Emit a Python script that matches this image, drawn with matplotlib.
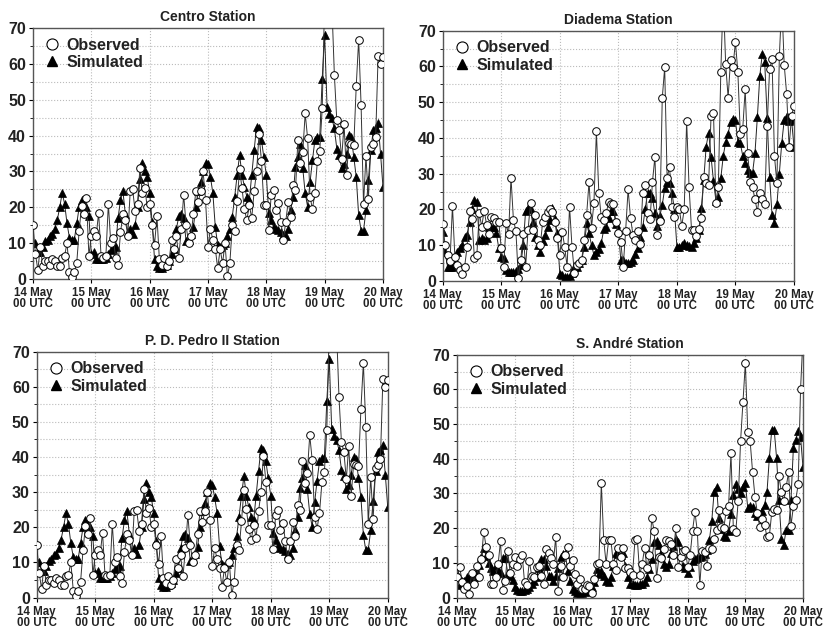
import numpy as np
import matplotlib
matplotlib.use("Agg")
import matplotlib.pyplot as plt
from matplotlib.lines import Line2D
from matplotlib.ticker import MultipleLocator

# hourly values, 14 May 00 UTC .. 20 May 00 UTC (145 points)
centro_obs = [15, 7, 2.5, 9, 3.5, 5, 5, 4, 5.5, 5, 3.5, 3.5, 6, 6.5, 10, 2, 0.5, 2, 4.5, 13.5,
              20.5, 18, 22.5, 6.5, 12, 13.5, 12, 18.5, 6.5, 6, 6.5, 21, 10, 11.5, 6, 4, 13, 18, 16.5, 12,
              24.5, 25, 19, 21, 31, 24, 25.5, 20, 21, 15, 9.5, 17.5, 5.5, 4, 6, 3.5, 5, 11, 8.5, 12,
              6, 14, 23.5, 15, 10, 12, 18, 24.5, 21.5, 24.5, 30, 22, 9, 14, 11, 8.5, 3, 8.3, 4.4, 10,
              0.8, 4.4, 15, 13.4, 21.7, 30.6, 25.3, 19.4, 16.4, 20.6, 17, 24.5, 30, 40.4, 33, 20.6, 20.6, 13.7, 23.4, 24.8,
              19.2, 21.3, 16, 10.9, 16, 21.6, 17.4, 26.2, 24.8, 38.8, 32.5, 35.5, 46.2, 39.2, 22.8, 19.6, 24, 32.8, 35.8, 47.6,
              78, 92, 88, 76, 57, 44.3, 41.5, 33.6, 43.2, 29, 38, 37.6, 37.3, 53.8, 66.8, 48.5, 20.9, 34.3, 22.3, 36.9,
              37.7, 39.5, 62.2, 59.9, 62]
centro_sim = [10, 10, 7.5, 7.5, 9, 10.5, 11, 12, 12.5, 14, 16.5, 20, 24, 21, 15.5, 11.5, 11, 11, 15.5, 20,
              22, 21, 20, 17.5, 7, 7.5, 5.5, 5.5, 5.5, 5.5, 6, 7, 8, 8.5, 9, 17, 22, 24.5, 18, 13,
              14, 12.5, 15, 20, 28, 32.5, 30, 28.5, 24, 16, 5.5, 3.5, 3, 3, 3.5, 4, 5, 7, 8.5, 14,
              17.5, 18, 17, 10.5, 11, 12.5, 14.5, 20, 24.5, 27, 30, 32.5, 32, 28.5, 24, 14.6, 9.5, 9, 9.5, 10,
              12, 14, 17.4, 23, 29, 34.6, 29, 25.7, 23, 22, 29, 36, 42.5, 42, 38.8, 34, 29, 18.3, 16.4, 14.6,
              14, 13.7, 13.2, 12.3, 12, 14, 19.2, 23, 31.3, 34, 37.8, 30.9, 23.9, 20.2, 27.1, 33.2, 38.8, 39.7, 39.7, 55.9,
              68, 48, 46, 44.8, 42, 36.4, 34.6, 30.9, 32, 35, 40.1, 39.5, 34, 28.5, 17.8, 13.5, 13.5, 19.2, 27.6, 36,
              41.5, 42, 43.4, 35, 25.7]

diadema_obs = [16, 10, 7.3, 5.5, 21, 6.6, 4.5, 3, 2, 4, 9.6, 19.6, 17.3, 6.3, 7.3, 19, 15.2, 19.7, 15.7, 13,
               18, 17.5, 16.6, 16.5, 9.1, 4, 16.1, 13, 28.9, 17, 14.1, 0.9, 6, 13, 4, 14.3, 21.9, 14.3, 18.5, 11.5,
               10, 16.6, 18, 19.4, 20, 19.4, 16.6, 11.9, 7.3, 13.8, 9.6, 4, 20.8, 9.6, 2.1, 4.5, 5, 6, 11.5, 18.5,
               27.8, 14.9, 21.9, 41.8, 24.7, 17.8, 17, 18.9, 22, 21.4, 21.5, 16.6, 13.5, 11, 4, 14.1, 25.6, 17.7, 12.8, 11.5,
               14.1, 10.3, 24.7, 26.7, 18.9, 17.2, 27.8, 34.8, 12.8, 16.8, 51.1, 59.7, 28.7, 32, 20.8, 18, 20.6, 20, 15.4, 20,
               44.8, 26.2, 14.3, 14.3, 12.6, 14.4, 17.5, 29.2, 27.5, 26.8, 46.1, 47.1, 21.9, 26.4, 58.3, 80, 60.6, 51.3, 61.8, 59.9,
               66.9, 58.3, 41.2, 42.6, 53.6, 35.9, 27.7, 26.4, 22.8, 19.4, 24.5, 23, 21.5, 43.2, 59.2, 62, 34.9, 27.3, 62.8, 78,
               60.4, 52.3, 37.5, 46.2, 49]
diadema_sim = [13.8, 8, 4, 4, 4, 6, 8, 9.1, 10, 12.4, 12.9, 16.6, 20, 22.6, 22, 11.5, 11.9, 11.5, 12, 15.2,
               15.2, 15, 13.3, 9.1, 6.8, 6.3, 3, 2.6, 2.6, 2.6, 2.8, 3.3, 4.5, 10, 19.7, 20.3, 20, 16.6, 12.4, 10,
               8.2, 11.3, 12.9, 15, 17, 20.3, 17.2, 13.3, 2, 1.7, 1.2, 1.2, 1.5, 2.1, 4, 3.8, 5, 5.9, 9.4, 16.1,
               13.3, 10, 7.3, 8.2, 9, 10.5, 14.4, 15, 17.5, 19.7, 19.7, 16, 14.3, 5.9, 5.9, 4.9, 5, 5.4, 5.9, 7.5,
               9.1, 12.4, 15, 20, 24.7, 24.7, 23.1, 18.9, 15.4, 18.2, 21.2, 25.9, 27.8, 27.3, 24.5, 20, 9.6, 9.6, 10, 10.5,
               10, 9.8, 9.6, 10.5, 12, 14.3, 20.3, 28.2, 37.6, 41.5, 34.8, 28, 22.5, 23.6, 28.7, 34.9, 38.9, 41.2, 44.5, 45.4,
               45, 38.9, 38.5, 35, 33.1, 31, 30.3, 30.1, 35.7, 45.9, 57.4, 63.5, 61.3, 45.6, 29, 18.5, 16.3, 21.4, 29.9, 38.7,
               45, 46.1, 44.8, 45, 37.6]

# P. D. Pedro II panel shows the same series as Centro
pedro_obs = centro_obs
pedro_sim = centro_sim

andre_obs = [6, 8.8, 4.5, 2.6, 3.3, 0.9, 7.2, 4, 9.1, 6, 11, 19, 14.7, 12.2, 4, 4, 6, 9.6, 16.3, 2.1,
             4.9, 13.5, 7.2, 9.6, 11.6, 9.1, 11.2, 12.4, 4.5, 3.5, 10.5, 6.3, 6, 8.8, 9.1, 6.3, 4, 14, 12.8, 11.4,
             9.8, 17.5, 2, 9.1, 6, 12.2, 14.7, 9.1, 10.7, 6.8, 4, 5.4, 2.6, 2.6, 3.5, 3.3, 1.2, 5.4, 9.8, 10,
             33, 16.5, 9.8, 16.5, 16.5, 9.8, 8, 14.2, 11.6, 14.4, 8.6, 8.6, 7.5, 6.6, 16.5, 16.8, 6.6, 9.6, 14.2, 8.6,
             12.4, 22.8, 19.3, 5.7, 11.6, 11.4, 14, 16.5, 16.3, 15.3, 12.4, 20, 8.8, 11.6, 13.3, 13.8, 8.8, 12.2, 19.3, 24.6,
             19.1, 3.5, 13.3, 13, 9.1, 14.4, 14, 16.8, 19.6, 25.2, 20.3, 20, 24.9, 26.3, 41.6, 19.8, 19, 27.7, 45, 56.5,
             67.7, 47.8, 45, 36.3, 29.1, 24.4, 20.3, 22.6, 20.9, 17.5, 17.8, 24.6, 25.6, 25.2, 34.9, 30.5, 27.7, 31.9, 36.1, 20.7,
             26.3, 28.2, 32.6, 60.2, 75]
andre_sim = [6.8, 3.5, 4.9, 4.9, 5.9, 5.5, 5, 6, 7.5, 9.5, 11.6, 14.4, 11.9, 10, 8.5, 7.7, 9.1, 8, 7, 11.4,
             11.4, 7.2, 6.3, 5, 2.9, 2.1, 2, 2, 2.1, 2.5, 3, 4, 4.9, 6, 8.6, 11, 11.2, 9.1, 6.3, 6.3,
             4.9, 6.3, 8.5, 11.6, 12.5, 12.5, 7.7, 4.9, 2.6, 2, 1.2, 1, 1.2, 1.5, 2, 2.5, 3, 4.5, 8.2, 6.8,
             7.7, 6.3, 4.7, 4.5, 6, 9, 12.8, 12.5, 12.2, 12.8, 9, 6, 4, 3.8, 3.5, 3.5, 3.8, 4, 4.5, 5.9,
             8.2, 11, 15.9, 16.3, 15.2, 12.8, 9.6, 8.8, 9.8, 12.8, 15, 17, 16.1, 12.4, 9.1, 8.5, 7.2, 8.8, 10.5, 11,
             11.4, 11.6, 11.9, 12.5, 13.8, 16.5, 22.1, 30.5, 31.9, 22.8, 19.8, 17.8, 17.5, 19.3, 24, 29.6, 32.6, 31.4, 30, 31.9,
             33, 25.8, 26.5, 26, 24.4, 23.5, 24, 24.9, 26.8, 30.3, 40.3, 48.4, 48.4, 40.3, 28.2, 17, 15.2, 19.6, 19.6, 28.2,
             43.1, 45.4, 47.9, 46.3, 37.6]

stations = ["Centro Station", "Diadema Station", "P. D. Pedro II Station", "S. André Station"]
day_labels = ["14 May\n00 UTC", "15 May\n00 UTC", "16 May\n00 UTC", "17 May\n00 UTC",
              "18 May\n00 UTC", "19 May\n00 UTC", "20 May\n00 UTC"]

hours = np.arange(len(centro_obs))

plt.rcParams["font.family"] = ["Liberation Sans", "DejaVu Sans"]
plt.rcParams["font.weight"] = "bold"

fig = plt.figure(figsize=(8.25, 6.29), dpi=100)
# panel boxes in figure fractions
boxes = [
    [0.040, 0.5564, 0.4242, 0.3990],
    [0.5366, 0.5533, 0.4258, 0.3980],
    [0.0445, 0.0500, 0.4255, 0.3910],
    [0.5543, 0.0500, 0.4190, 0.3860],
]
data = [(centro_obs, centro_sim), (diadema_obs, diadema_sim),
        (pedro_obs, pedro_sim), (andre_obs, andre_sim)]

for i, (box, title, (obs, sim)) in enumerate(zip(boxes, stations, data)):
    ax = fig.add_axes(box)
    ax.plot(hours, obs, color="#333333", lw=0.7, marker="o", ms=5.5,
            mfc="white", mec="black", mew=0.7, zorder=3)
    ax.plot(hours, sim, color="#222222", lw=0.7, marker="^", ms=5.5,
            mfc="black", mec="black", mew=0.5, zorder=2)
    ax.set_xlim(0, 144)
    ax.set_ylim(0, 70)
    ax.set_xticks(np.arange(0, 145, 24))
    ax.set_xticklabels(day_labels, fontsize=8.3, fontweight="bold", linespacing=0.85)
    ax.yaxis.set_major_locator(MultipleLocator(10))
    ax.yaxis.set_minor_locator(MultipleLocator(5))
    ax.tick_params(axis="y", labelsize=11.5, length=3, pad=2)
    ax.tick_params(axis="y", which="minor", length=2)
    ax.tick_params(axis="x", length=3, pad=3)
    for lbl in ax.get_yticklabels():
        lbl.set_fontweight("bold")
        lbl.set_color("#222222")
    for lbl in ax.get_xticklabels():
        lbl.set_color("#222222")
    ax.grid(True, which="both", axis="y", linestyle=":", color="#bbbbbb", lw=0.8)
    ax.grid(True, which="major", axis="x", linestyle=":", color="#bbbbbb", lw=0.8)
    ax.set_axisbelow(True)
    for sp in ax.spines.values():
        sp.set_color("#555555")
        sp.set_linewidth(1.0)
    ax.set_title(title, fontsize=10, fontweight="bold", color="#222222", pad=5)
    handles = [
        Line2D([], [], ls="none", marker="o", ms=8, mfc="white", mec="black", mew=0.8),
        Line2D([], [], ls="none", marker="^", ms=7, mfc="black", mec="black"),
    ]
    ax.legend(handles, ["Observed", "Simulated"], loc="upper left", frameon=False,
              prop={"size": 11.5, "weight": "bold"}, handlelength=1.2, handletextpad=0.3,
              borderaxespad=0.4, labelspacing=0.15, borderpad=0.2, labelcolor="#222222")

fig.savefig("out.png", dpi=100)
